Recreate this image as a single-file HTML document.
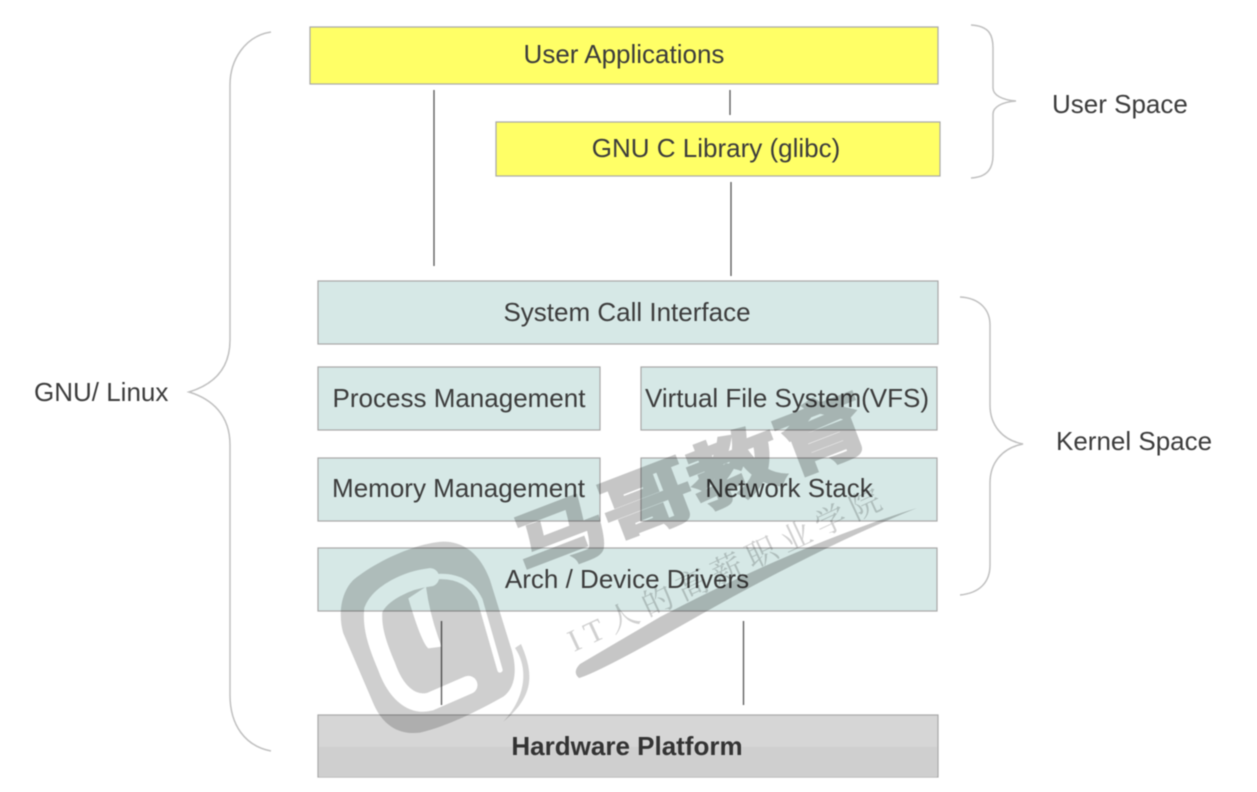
<!DOCTYPE html>
<html><head><meta charset="utf-8"><style>
html,body{margin:0;padding:0;background:#fff}
svg{display:block;filter:blur(.45px)}
text{font-family:"Liberation Sans","Noto Sans CJK SC",sans-serif;fill:#3c3c3c;font-size:26px}
.c{text-anchor:middle}
.wm{mix-blend-mode:multiply}
</style></head><body>
<svg width="1257" height="792" viewBox="0 0 1257 792" xmlns="http://www.w3.org/2000/svg">
<defs>
<mask id="m" maskUnits="userSpaceOnUse" x="330" y="530" width="220" height="220">
<rect x="330" y="530" width="220" height="220" fill="#000"/>
<g transform="translate(330 530) scale(.3333)">
<path d="M340 35C250 40 130 100 70 150C30 190 25 260 40 310L130 520C160 590 210 615 270 608C350 590 450 540 520 500C560 470 560 410 545 360L480 150C450 70 400 35 340 35Z" fill="#fff"/>
<g fill="none" stroke="#000" stroke-linecap="round">
<path d="M300 142C230 150 150 190 130 240C125 290 140 340 170 410C195 480 240 530 300 515L415 465" stroke-width="55"/>
<path d="M300 142C380 130 425 160 450 210L510 420" stroke-width="16"/>
</g>
<path d="M235 205L288 170Q300 260 335 350L295 355Q275 340 235 205Z" fill="#000"/>
</g>
</mask>
</defs>
<rect width="1257" height="792" fill="#fff"/>
<g stroke="#a8a8a8" stroke-width="1.2">
<rect x="310" y="27" width="628" height="57" fill="#ffff66"/>
<rect x="496" y="122" width="444" height="54" fill="#ffff66"/>
<g fill="#d6e8e6">
<rect x="318" y="281" width="620" height="63"/>
<rect x="318" y="367" width="282" height="63"/>
<rect x="641" y="367" width="296" height="63"/>
<rect x="318" y="458" width="282" height="63"/>
<rect x="641" y="458" width="296" height="63"/>
<rect x="318" y="548" width="619" height="63"/>
</g>
<rect x="318" y="715" width="620" height="62" fill="#d6d6d6"/>
</g>
<rect x="319" y="747" width="618" height="30" fill="#cfcfcf"/>
<g stroke="#606060" stroke-width="1.4" fill="none">
<path d="M434 90V266M730 90V115M731 182V276M441.500 621V705M743.500 621V705"/>
</g>
<g fill="none" stroke="#c0c0c0" stroke-width="1.5">
<path d="M271 32C245 36 230 60 230 85V340C230 370 212 385 189 392C212 399 230 415 230 445V695C230 725 245 746 271 751"/>
<path d="M971 25C990 26 993 36 993 48V88C993 95 1002 100 1016 101C1002 102 993 107 993 114V155C993 168 988 177 971 178"/>
<path d="M960 297C980 298 990 310 990 325V405C990 425 1002 440 1023 444C1002 448 990 463 990 483V565C990 582 980 593 960 595"/>
</g>
<text class="c" x="624" y="63">User Applications</text>
<text class="c" x="716" y="157">GNU C Library (glibc)</text>
<text class="c" x="627" y="321">System Call Interface</text>
<text class="c" x="459" y="407">Process Management</text>
<text class="c" x="787" y="407" textLength="284">Virtual File System(VFS)</text>
<text class="c" x="458.500" y="497">Memory Management</text>
<text class="c" x="789" y="497">Network Stack</text>
<text class="c" x="627" y="588">Arch / Device Drivers</text>
<text class="c" x="627" y="755" style="font-weight:bold;fill:#333">Hardware Platform</text>
<text x="1052" y="113">User Space</text>
<text x="1056" y="450">Kernel Space</text>
<text x="34" y="401">GNU/ Linux</text>
<g class="wm">
<rect x="330" y="530" width="220" height="220" fill="#cfcfcf" mask="url(#m)"/>
</g>
<g class="wm">
<path d="M521 644C533 672 536 695 503 722C524 700 530 670 515 648Z" fill="#d4d4d4"/>
</g>
<g class="wm">
<text transform="translate(526 576) rotate(-21) scale(1.3 1)" style="font-size:72px;font-weight:bold;fill:#c6c6c6;stroke:#c6c6c6;stroke-width:3px">马哥教育</text>
</g>
<g class="wm">
<text transform="translate(574 652) rotate(-25)" textLength="342" style="font-family:'Liberation Serif','Noto Serif CJK SC',serif;font-size:31px;fill:#d0d0d0">IT人的高薪职业学院</text>
</g>
<g class="wm">
<path d="M917 508C830 535 740 575 660 617L580 664Q572 672 579 678Q600 672 700 615C780 570 850 535 917 508Z" fill="#c6c6c6"/>
</g>
</svg>
</body></html>
